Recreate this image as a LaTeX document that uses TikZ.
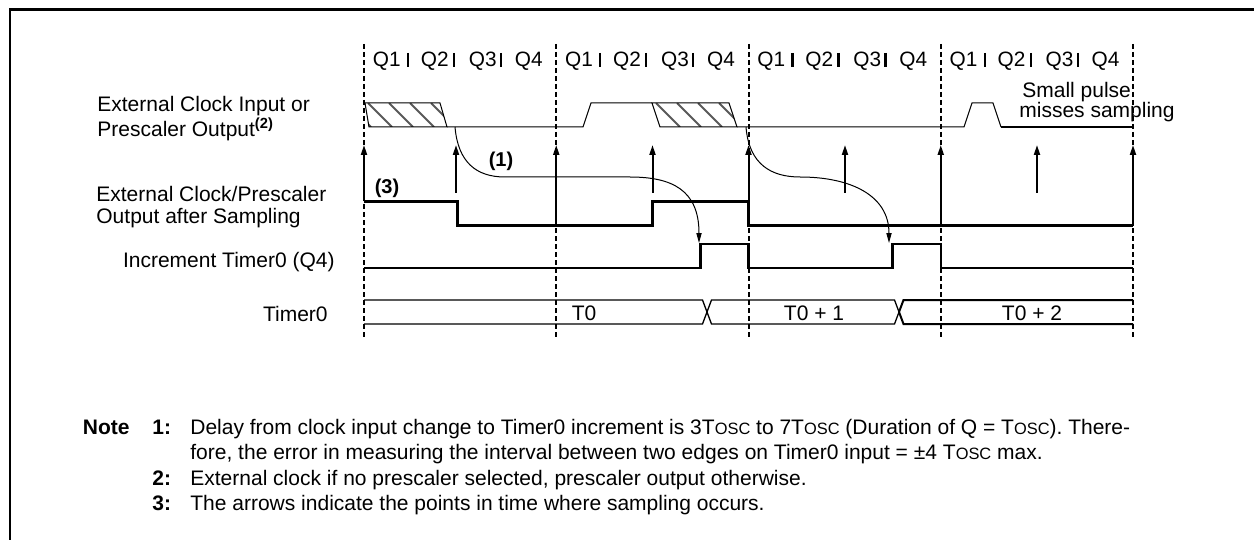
\documentclass[tikz,border=0pt]{standalone}
\usepackage{fontspec}
\setmainfont{Liberation Sans}
\usetikzlibrary{arrows.meta}
\newcommand{\Tosc}{T{\fontsize{8.2}{9}\selectfont OSC}}
\begin{document}
\begin{tikzpicture}[x=0.5pt,y=-0.5pt,
  txt/.style={font=\fontsize{10.5}{12}\selectfont, inner sep=0pt},
  qtxt/.style={font=\fontsize{10.4}{12}\selectfont, inner sep=0pt, anchor=base west},
  btxt/.style={font=\fontsize{10}{12}\selectfont\bfseries, inner sep=0pt},
  ntxt/.style={font=\fontsize{10.5}{12}\selectfont, inner sep=0pt, anchor=base west},
  sigthin/.style={line width=0.5pt},
  sigthick/.style={line width=1.2pt},
  bthin/.style={line width=0.65pt},
  bthick/.style={line width=1pt},
  qbar/.style={line width=1.2pt},
  dashline/.style={line width=1pt, dash pattern=on 2.5pt off 1.5pt},
  samp/.style={line width=1pt, -{Triangle[length=5pt,width=3pt]}},
  delay/.style={line width=0.5pt, -{Triangle[length=5pt,width=2.6pt]}},
  hatchline/.style={line width=1pt, black!65},
]
\useasboundingbox (0,0) rectangle (1254,540);
% frame
\draw[line width=1.15pt] (10,540) -- (10,9.5) -- (1254,9.5);

% dashed cycle boundaries
\foreach \c [count=\i] in {364,556.25,748.5,940.75,1133}
  \draw[dashline] (\c,44) coordinate (dt\i) -- (\c,340) coordinate (db\i);

% Q labels
\foreach \c [count=\i] in {364,556.25,748.5,940.75} {
  \node[qtxt] (qa\i) at (\c+8.5,67) {Q1};
  \draw[qbar] (\c+44,53) -- (\c+44,67);
  \node[qtxt] (qb\i) at (\c+56.5,67) {Q2};
  \draw[qbar] (\c+90,53) -- (\c+90,67);
  \node[qtxt] (qc\i) at (\c+104.5,67) {Q3};
  \draw[qbar] (\c+137,53) -- (\c+137,67);
  \node[qtxt] (qd\i) at (\c+150.5,67) {Q4};
}

% signal labels
\node[txt, align=left, anchor=north west, font=\fontsize{10.5}{10.5}\selectfont] (l1) at (97,96)
  {External Clock Input or\\Prescaler Output\textsuperscript{\bfseries(2)}};
\node[txt, align=left, anchor=north west, font=\fontsize{10.5}{11.25}\selectfont] (l2) at (96,185.5)
  {External Clock/Prescaler\\Output after Sampling};
\node[txt, anchor=base east] (l3) at (335,267.5) {Increment Timer0 (Q4)};
\node[txt, anchor=base east] (l4) at (328,321.5) {Timer0};

% row 1 : external clock input, hatched regions
\begin{scope}
  \clip (365,103) -- (440,103) -- (447,127) -- (369,127) -- cycle;
  \foreach \k in {-1,...,4} \draw[hatchline] (368+21*\k,103) -- ++(24,24);
\end{scope}
\begin{scope}
  \clip (652,103) -- (729,103) -- (737,127) -- (660,127) -- cycle;
  \foreach \k in {-1,...,4} \draw[hatchline] (656+21*\k,103) -- ++(24,24);
\end{scope}
\draw[sigthin] (365,103) -- (440,103) -- (447,127) -- (369,127) -- cycle;
\draw[sigthin] (652,103) -- (729,103) -- (737,127) -- (660,127) -- cycle;
\draw[sigthin] (447,127) -- (583,127) -- (591,103) -- (652,103);
\draw[sigthin] (737,127) -- (964,127) -- (972,103) -- (993,103) -- (1001,127);
\draw[sigthick] (1001,127) -- (1133,127);
\node[txt, align=left, anchor=north west, font=\fontsize{10.5}{10}\selectfont] (sp) at (1019,82)
  {\hspace*{1.5pt}Small pulse\\misses sampling};

% sampling arrows
\foreach \x/\b [count=\i] in {364/201.5,456/193,556.25/225.5,652.5/193,748.5/225.5,845/193,940.75/225.5,1037/193,1133/225.5} {
  \coordinate (sb\i) at (\x,\b);
  \coordinate (st\i) at (\x,145);
  \draw[samp] (sb\i) -- (st\i);
}
\node[btxt] (n3) at (387,188) {(3)};

% row 2 : after sampling
\draw[sigthick] (364,201.5) -- (457.5,201.5) -- (457.5,225.5) -- (652.5,225.5) -- (652.5,201.5)
  -- (748.5,201.5) -- (748.5,225.5) -- (1133,225.5);

% row 3 : increment
\draw[sigthick] (364,268) -- (700.5,268) -- (700.5,244) -- (748.5,244) -- (748.5,268)
  -- (892.5,268) -- (892.5,244) -- (940.75,244) -- (940.75,268) -- (1133,268);

% delay curves
\coordinate (c1s) at (455,127);
\coordinate (c1e) at (699,243);
\draw[delay] (c1s) .. controls (458,162) and (476,177) .. (505,177) -- (630,177)
  .. controls (672,177) and (699,190) .. (c1e);
\coordinate (c2s) at (746,127);
\coordinate (c2e) at (889,243);
\draw[delay] (c2s) .. controls (749,165) and (772,177) .. (800,177)
  .. controls (850,177) and (889,195) .. (c2e);
\node[btxt] (n1) at (501,161) {(1)};

% row 4 : Timer0 bus
\draw[bthin] (364,300) -- (702.5,300) -- (711.5,324) -- (894.5,324) -- (899,312);
\draw[bthin] (364,324) -- (702.5,324) -- (711.5,300) -- (894.5,300) -- (899,312);
\draw[bthick] (899,312) -- (903.5,300) -- (1133,300);
\draw[bthick] (899,312) -- (903.5,324) -- (1133,324);
\node[txt, anchor=base] (t0) at (584,321) {T0};
\node[txt, anchor=base] (t1) at (814,321) {T0 + 1};
\node[txt, anchor=base] (t2) at (1032,321) {T0 + 2};

% notes
\node[ntxt, anchor=base east, font=\fontsize{10.5}{12}\selectfont\bfseries] (note) at (130,434) {Note};
\node[ntxt, font=\fontsize{10.5}{12}\selectfont\bfseries] (nn1) at (152,434) {1:};
\node[ntxt] (nt1) at (190,434) {Delay from clock input change to Timer0 increment is 3\Tosc{} to 7\Tosc{} (Duration of Q = \Tosc). There-};
\node[ntxt] (nt1b) at (190,459) {fore, the error in measuring the interval between two edges on Timer0 input = ±4 \Tosc{} max.};
\node[ntxt, font=\fontsize{10.5}{12}\selectfont\bfseries] (nn2) at (152,485) {2:};
\node[ntxt] (nt2) at (190,485) {External clock if no prescaler selected, prescaler output otherwise.};
\node[ntxt, font=\fontsize{10.5}{12}\selectfont\bfseries] (nn3) at (152,510) {3:};
\node[ntxt] (nt3) at (190,510) {The arrows indicate the points in time where sampling occurs.};
\end{tikzpicture}
\end{document}
